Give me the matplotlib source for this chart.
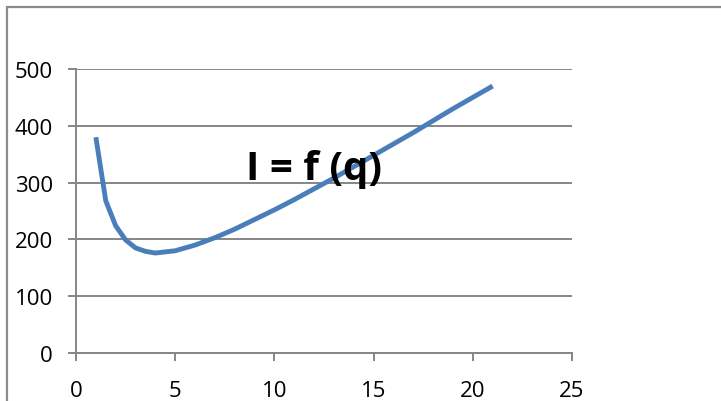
import matplotlib
matplotlib.use("Agg")
import matplotlib.pyplot as plt
from matplotlib.patches import Rectangle

# values
q = [1, 1.5, 2, 2.5, 3, 3.5, 4, 5, 6, 7, 8, 9, 10, 11, 12, 13, 14, 15, 16, 17, 18, 19, 20, 21]
I = [380, 268, 224, 199, 185, 179, 176, 180, 190, 203, 218, 235, 252, 270, 289, 308,
     328, 348, 368, 388, 409, 430, 450, 470]
x_ticks = [0, 5, 10, 15, 20, 25]
y_ticks = [0, 100, 200, 300, 400, 500]

grey = "#868686"
blue = "#4a7ebb"

plt.rcParams["font.family"] = ["Open Sans", "DejaVu Sans"]

fig = plt.figure(figsize=(7.21, 4.02), dpi=100)
ax = fig.add_axes([76 / 721, 1 - 354 / 402, (572 - 76) / 721, (354 - 70) / 402])

ax.plot(q, I, color=blue, linewidth=3.5, solid_capstyle="butt",
        solid_joinstyle="round", zorder=3)
ax.text(12.0, 306, "I = f (q)", ha="center", va="baseline", fontsize=29,
        fontweight="bold", color="black", zorder=4)

ax.set_xlim(0, 25)
ax.set_ylim(0, 500)
ax.set_xticks(x_ticks)
ax.set_yticks(y_ticks)
ax.grid(axis="y", color=grey, linewidth=1.4)
ax.set_axisbelow(True)

for side in ["top", "right"]:
    ax.spines[side].set_visible(False)
for side in ["left", "bottom"]:
    ax.spines[side].set_color(grey)
    ax.spines[side].set_linewidth(1.4)

ax.tick_params(axis="both", colors=grey, width=1.4, length=5.5, labelsize=16,
               labelcolor="black")
ax.tick_params(axis="x", pad=14)
ax.tick_params(axis="y", pad=11)

# outer chart border, cut off at right and bottom
fig.patches.append(Rectangle((6.5 / 721, -0.2), 1.2, 1.2 - 7.5 / 402,
                             transform=fig.transFigure, fill=False,
                             edgecolor="#8c8c8c", linewidth=1.6))

fig.savefig("out.png", dpi=100)
